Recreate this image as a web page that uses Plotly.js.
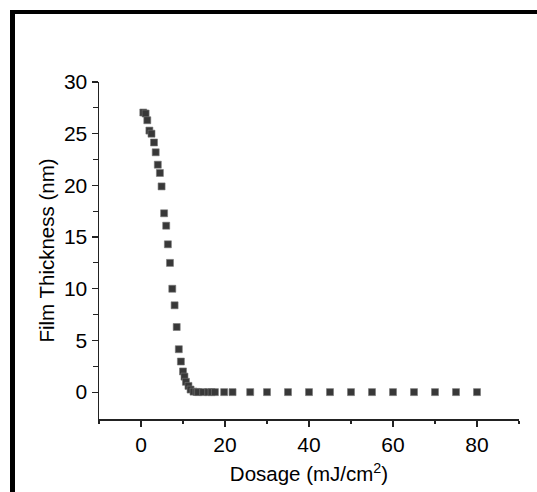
<!DOCTYPE html>
<html>
<head>
<meta charset="utf-8">
<script src="https://cdn.plot.ly/plotly-3.0.1.min.js"></script>
<style>
html,body{margin:0;padding:0;background:#fff;width:537px;height:492px;overflow:hidden;}
#plot{position:absolute;left:0;top:0;width:537px;height:492px;}
#frame{position:absolute;left:10px;top:10px;width:600px;height:600px;border-top:4px solid #000;border-left:5px solid #000;pointer-events:none;}
</style>
</head>
<body>
<div id="plot"></div>
<div id="frame"></div>
<script>
const dosage = [0.55, 1.1, 1.5, 2.0, 2.5, 3.1, 3.5, 4.0, 4.5, 4.9, 5.5, 6.0, 6.4, 6.9, 7.45, 8.0, 8.5, 9.0, 9.5, 10.0, 10.35, 10.7, 11.3, 11.8, 12.5, 13.2, 13.6, 14.8, 16.0, 16.8, 17.6, 19.8, 21.8, 26, 30, 35, 40, 45, 50, 55, 60, 65, 70, 75, 80];
const thickness = [27.05, 26.95, 26.3, 25.3, 25.0, 24.15, 23.2, 22.0, 21.2, 19.9, 17.3, 16.1, 14.3, 12.5, 10.0, 8.4, 6.3, 4.15, 2.96, 2.0, 1.5, 1.0, 0.6, 0.25, 0.05, 0.02, 0, 0, 0, 0, 0, 0, 0, 0, 0, 0, 0, 0, 0, 0, 0, 0, 0, 0, 0];
const xTicks = [0, 20, 40, 60, 80];
const yTicks = [0, 5, 10, 15, 20, 25, 30];

const trace = {
  x: dosage, y: thickness, type: 'scatter', mode: 'markers',
  marker: {symbol: 'square', size: 7, color: '#383838', line: {width: 0.6, color: '#777'}},
  hoverinfo: 'none'
};
const fam = 'Liberation Sans, Arial, sans-serif';
const tickFont = {family: fam, size: 21, color: '#000'};
const titleFont = {family: fam, size: 20.5, color: '#000'};
const layout = {
  width: 537, height: 492,
  margin: {l: 99, r: 18, t: 82, b: 73},
  paper_bgcolor: '#fff', plot_bgcolor: '#fff',
  showlegend: false,
  font: tickFont,
  xaxis: {
    range: [-10, 90], tickvals: xTicks, ticktext: xTicks.map(String),
    showgrid: false, zeroline: false, showline: true, linecolor: '#222', linewidth: 1.5,
    ticks: 'outside', ticklen: 6, tickwidth: 1.2, tickcolor: '#222',
    minor: {tickvals: [-10, 10, 30, 50, 70, 90], ticks: 'outside', ticklen: 3, tickwidth: 1.2, tickcolor: '#222', showgrid: false},
    tickfont: tickFont,
    title: {text: 'Dosage (mJ/cm<sup>2</sup>)', font: titleFont, standoff: 12}
  },
  yaxis: {
    range: [-2.6, 30], tickvals: yTicks, ticktext: yTicks.map(String),
    showgrid: false, zeroline: false, showline: true, linecolor: '#222', linewidth: 1.5,
    ticks: 'outside', ticklen: 6, tickwidth: 1.2, tickcolor: '#222',
    minor: {tickvals: [2.5, 7.5, 12.5, 17.5, 22.5, 27.5], ticks: 'outside', ticklen: 5, tickwidth: 1.2, tickcolor: '#222', showgrid: false},
    tickfont: tickFont,
    title: {text: 'Film Thickness (nm)', font: titleFont, standoff: 4}
  }
};
Plotly.newPlot('plot', [trace], layout, {staticPlot: true, displayModeBar: false});
</script>
</body>
</html>
